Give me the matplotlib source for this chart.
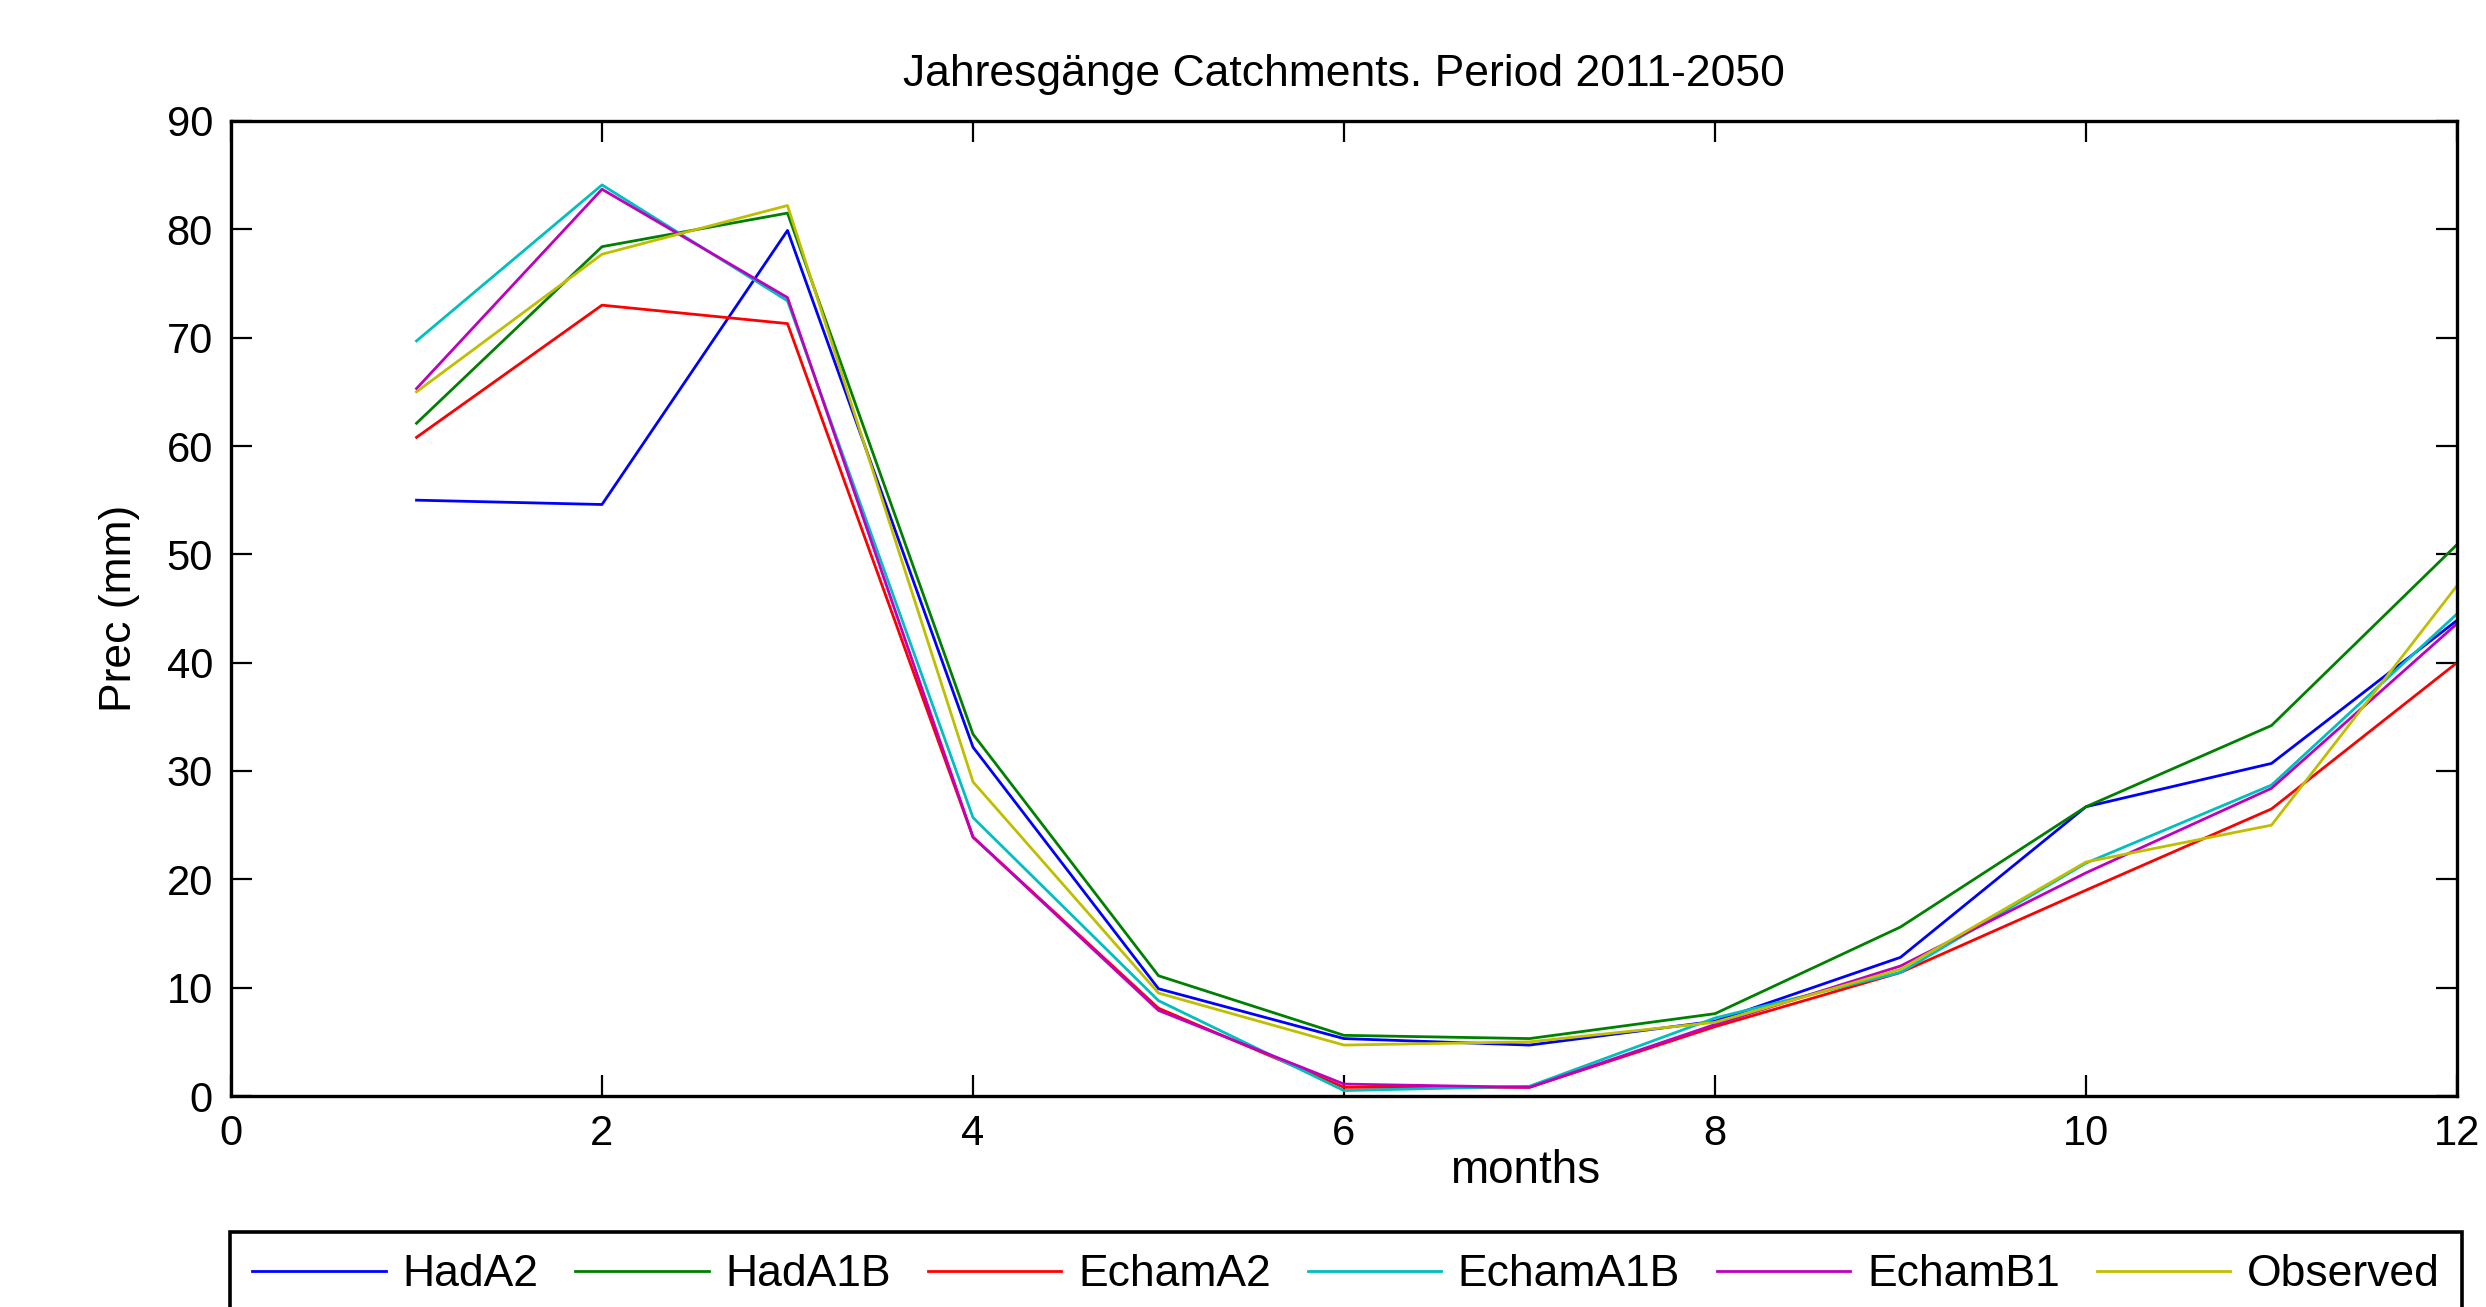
import matplotlib
matplotlib.use('Agg')
import matplotlib.pyplot as plt

plt.rcParams['font.family'] = ['Liberation Sans', 'DejaVu Sans']

# месяцы и значения осадков (мм) по сценариям
months = [1, 2, 3, 4, 5, 6, 7, 8, 9, 10, 11, 12]
had_a2 = [55.0, 54.6, 79.9, 32.2, 9.9, 5.3, 4.7, 6.9, 12.8, 26.7, 30.7, 43.9]
had_a1b = [62.1, 78.4, 81.5, 33.4, 11.1, 5.6, 5.3, 7.6, 15.6, 26.7, 34.2, 50.9]
echam_a2 = [60.8, 73.0, 71.3, 23.9, 8.1, 0.8, 0.8, 6.4, 11.4, 19.0, 26.5, 40.0]
echam_a1b = [69.7, 84.1, 73.4, 25.7, 8.8, 0.5, 0.9, 7.2, 11.4, 21.5, 28.7, 44.5]
echam_b1 = [65.3, 83.7, 73.7, 23.9, 7.9, 1.1, 0.8, 6.6, 12.0, 20.6, 28.4, 43.6]
observed = [65.0, 77.7, 82.2, 29.0, 9.5, 4.7, 5.0, 6.8, 11.7, 21.6, 25.0, 47.1]

series = [had_a2, had_a1b, echam_a2, echam_a1b, echam_b1, observed]
names = ['HadA2', 'HadA1B', 'EchamA2', 'EchamA1B', 'EchamB1', 'Observed']
colors = ['#0000ff', '#008000', '#ff0000', '#00bfbf', '#bf00bf', '#bfbf00']

W, H = 2486, 1307
fig = plt.figure(figsize=(W / 100, H / 100), dpi=100)
# оси в пикселях: x 231..2457, y 121..1096
ax = fig.add_axes([231 / W, 1 - 1096 / H, (2457 - 231) / W, (1096 - 121) / H])

for vals, name, c in zip(series, names, colors):
    ax.plot(months, vals, color=c, lw=2.0, label=name)

ax.set_xlim(0, 12)
ax.set_ylim(0, 90)
ax.set_xticks(range(0, 13, 2))
ax.set_yticks(range(0, 91, 10))
ax.tick_params(direction='in', length=15, width=1.6, top=True, right=True,
               labelsize=30, pad=13)
for s in ax.spines.values():
    s.set_linewidth(2.4)

ax.set_title('Jahresgänge Catchments. Period 2011-2050', fontsize=32, pad=25)
ax.set_ylabel('Prec (mm)', fontsize=32)
ax.yaxis.set_label_coords(-0.041, 0.5)
ax.set_xlabel('months', fontsize=33)
ax.xaxis.label.set_va('baseline')
ax.xaxis.set_label_coords((1525 - 231) / (2457 - 231), (1096 - 1183) / 975)

# легенда внизу, нижний край уходит за пределы рисунка
leg = fig.legend(loc='upper left', ncol=6, mode='expand', fontsize=32,
                 bbox_to_anchor=(230 / W, 0, (2462 - 230) / W, 1 - 1232 / H),
                 bbox_transform=fig.transFigure, borderaxespad=0,
                 handlelength=3.0, handletextpad=0.38, borderpad=0.5,
                 fancybox=False, framealpha=1)
leg.get_frame().set_edgecolor('black')
leg.get_frame().set_linewidth(2.6)

fig.savefig('out.png', dpi=100)
